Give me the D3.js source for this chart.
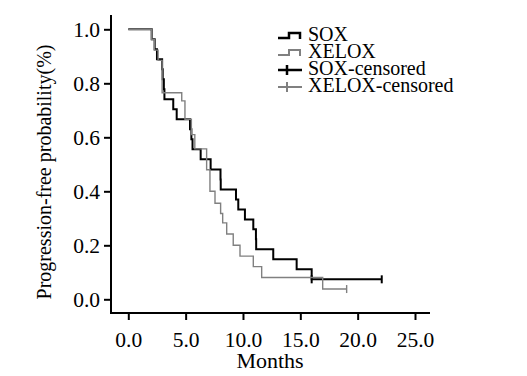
<!DOCTYPE html>
<html>
<head>
<meta charset="utf-8">
<script src="https://cdn.jsdelivr.net/npm/d3@7"></script>
<style>
  body { margin: 0; background: #fff; }
  text { font-family: "Liberation Serif", "Times New Roman", serif; fill: #000; }
</style>
</head>
<body>
<div id="chart"></div>
<script>
// Kaplan-Meier steps (months, survival)
var soxTime = [0, 2.04, 2.3, 2.5, 2.95, 3.0, 3.1, 3.15, 3.92, 4.22, 5.38, 5.5, 5.6, 6.31, 7.18, 8.04, 8.06, 9.39, 9.59, 10.17, 10.9, 11.13, 11.15, 12.64, 14.68, 15.99];
var soxSurv = [1, 0.963, 0.926, 0.889, 0.852, 0.815, 0.778, 0.741, 0.704, 0.667, 0.630, 0.593, 0.556, 0.519, 0.481, 0.444, 0.407, 0.370, 0.333, 0.296, 0.259, 0.222, 0.185, 0.148, 0.111, 0.074];
var soxCensor = [15.99, 22.1];

var xeloxTime = [0, 2.04, 2.27, 2.6, 2.95, 4.66, 4.94, 5.5, 5.8, 6.83, 7.12, 7.56, 8.05, 8.23, 8.58, 9.15, 9.74, 10.9, 11.63, 16.95];
var xeloxSurv = [1, 0.962, 0.923, 0.885, 0.765, 0.735, 0.667, 0.61, 0.557, 0.48, 0.40, 0.356, 0.318, 0.283, 0.242, 0.20, 0.16, 0.121, 0.081, 0.038];
var xeloxCensor = [19.04];

var xTicks = [0, 5, 10, 15, 20, 25];
var yTicks = [0, 0.2, 0.4, 0.6, 0.8, 1.0];
var legendLabels = ["SOX", "XELOX", "SOX-censored", "XELOX-censored"];

var width = 527, height = 376;
var svg = d3.select("#chart").append("svg")
            .attr("width", width)
            .attr("height", height);

var x = d3.scaleLinear().domain([0, 25]).range([128.3, 415]);
var y = d3.scaleLinear().domain([0, 1]).range([299.3, 29.3]);

// axis frame
svg.append("line").attr("x1", 111).attr("x2", 111).attr("y1", 15).attr("y2", 313.5)
   .attr("stroke", "#000").attr("stroke-width", 2);
svg.append("line").attr("x1", 110).attr("x2", 430).attr("y1", 313).attr("y2", 313)
   .attr("stroke", "#000").attr("stroke-width", 2);

var yAxis = svg.append("g").attr("transform", "translate(111,0)")
               .call(d3.axisLeft(y).tickValues(yTicks).tickSize(7).tickPadding(4)
                      .tickFormat(d3.format(".1f")));
var xAxis = svg.append("g").attr("transform", "translate(0,313)")
               .call(d3.axisBottom(x).tickValues(xTicks).tickSize(7).tickPadding(12)
                      .tickFormat(d3.format(".1f")));
[yAxis, xAxis].forEach(function (g) {
  g.select(".domain").remove();
  g.selectAll("line").attr("stroke", "#000").attr("stroke-width", 2);
  g.selectAll("text").attr("font-size", 21.5)
   .style("font-family", "'Liberation Serif', 'Times New Roman', serif");
});

svg.append("text").attr("x", 270).attr("y", 368).attr("text-anchor", "middle")
   .attr("font-size", 22).text("Months");
svg.append("text").attr("transform", "translate(51,172) rotate(-90)")
   .attr("text-anchor", "middle").attr("font-size", 20)
   .text("Progression-free probability(%)");

function stepPoints(times, surv, end) {
  var pts = times.map(function (t, i) { return [t, surv[i]]; });
  pts.push([end, surv[surv.length - 1]]);
  return pts;
}

var line = d3.line()
             .x(function (d) { return x(d[0]); })
             .y(function (d) { return y(d[1]); })
             .curve(d3.curveStepAfter);

var series = [
  { pts: stepPoints(soxTime, soxSurv, d3.max(soxCensor)), censor: soxCensor,
    last: soxSurv[soxSurv.length - 1], color: "#000", w: 2 },
  { pts: stepPoints(xeloxTime, xeloxSurv, d3.max(xeloxCensor)), censor: xeloxCensor,
    last: xeloxSurv[xeloxSurv.length - 1], color: "#808080", w: 1.4 }
];

series.forEach(function (s) {
  svg.append("path").attr("d", line(s.pts))
     .attr("fill", "none").attr("stroke", s.color).attr("stroke-width", s.w);
  svg.selectAll(null).data(s.censor).enter().append("line")
     .attr("x1", function (d) { return x(d); })
     .attr("x2", function (d) { return x(d); })
     .attr("y1", y(s.last) - 4).attr("y2", y(s.last) + 4)
     .attr("stroke", s.color).attr("stroke-width", s.w);
});

// legend
var legendColors = ["#000", "#808080", "#000", "#808080"];
var legendW = [2.5, 2, 2.5, 2];
var legend = svg.selectAll(".leg").data(legendLabels).enter().append("g")
                .attr("transform", function (d, i) { return "translate(0," + (i * 17) + ")"; });
legend.append("text").attr("x", 308).attr("y", 41).attr("font-size", 20)
      .text(function (d) { return d; });
legend.filter(function (d, i) { return i < 2; }).append("path")
      .attr("d", "M278,38 H289 V33 H300 V39")
      .attr("fill", "none")
      .attr("stroke", function (d, i) { return legendColors[i]; })
      .attr("stroke-width", function (d, i) { return legendW[i]; });
legend.filter(function (d, i) { return i >= 2; }).append("path")
      .attr("d", "M278,36 H302 M287,31 V41")
      .attr("fill", "none")
      .attr("stroke", function (d, i) { return legendColors[i + 2]; })
      .attr("stroke-width", function (d, i) { return legendW[i + 2]; });
</script>
</body>
</html>
